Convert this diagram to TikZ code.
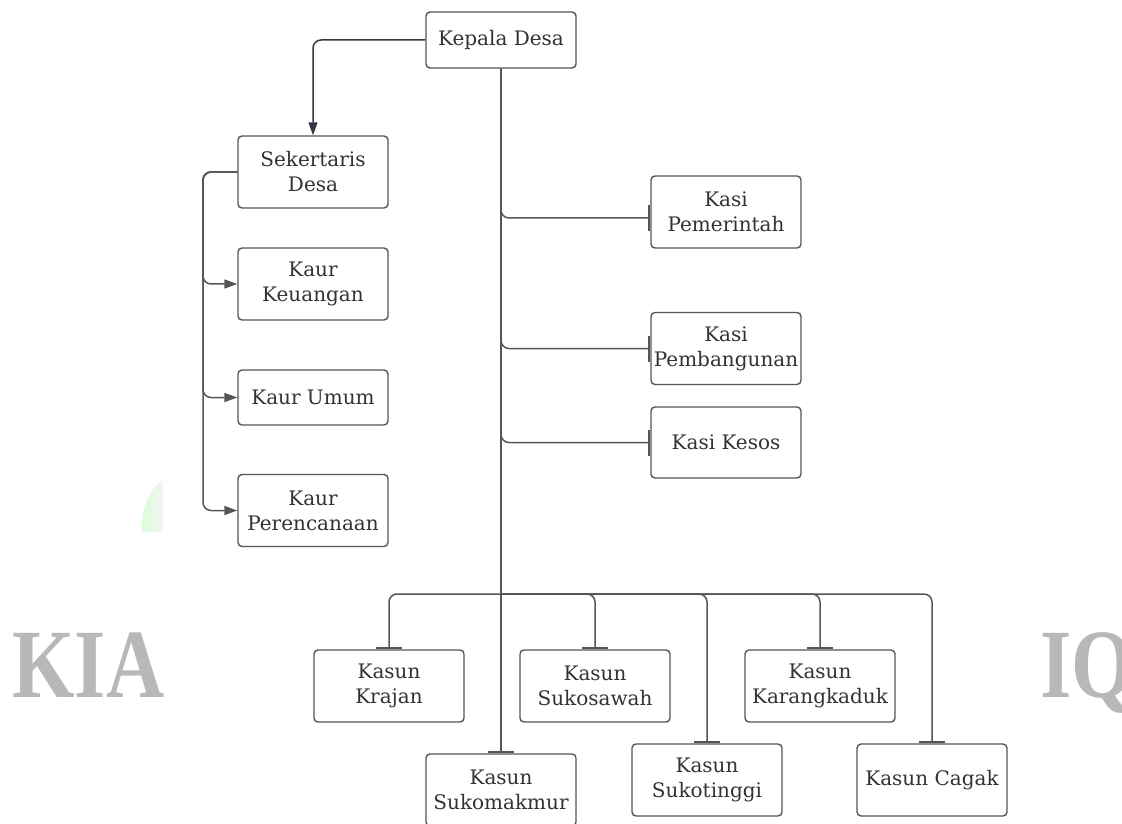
\documentclass[tikz,border=0pt]{standalone}
\usepackage{fontspec}
\setmainfont{DejaVu Serif}
\newfontfamily\wmfont{Liberation Serif}
\usepackage{tikz}
\usetikzlibrary{arrows.meta,positioning,calc}
\definecolor{garis}{HTML}{555555}
\definecolor{teks}{HTML}{333333}
\definecolor{panah}{HTML}{333844}
\definecolor{watermark}{HTML}{B8B8B8}
\tikzset{
	jabatan/.style={
		rectangle,
		rounded corners=2pt,
		draw=garis,
		line width=0.7pt,
		fill=white,
		text=teks,
		align=center,
		font=\fontsize{10}{12.5}\selectfont,
		minimum width=75pt,
		minimum height=36pt,
		inner sep=1pt,
	},
	tee/.style={
		-{Bar[width=13pt,line width=1.3pt]},
	},
	cabang/.style={
		draw=garis,
		line width=0.75pt,
		rounded corners=4pt,
	},
	wm/.style={
		text=watermark,
		inner sep=0pt,
		anchor=base west,
		font=\wmfont\bfseries\fontsize{49}{50}\selectfont,
		xscale=0.82,
	},
}

\begin{document}
\begin{tikzpicture}[x=0.5pt, y=-0.5pt, >={Triangle[length=6.5pt,width=4.5pt]}]
				\useasboundingbox (0,0) rectangle (1122,823);
				% watermark
				\shade[left color=green!25!white, right color=gray!15!white, opacity=0.6] (163,480) .. controls (148,490) and (141,510) .. (142,532) -- (163,532) -- cycle;
				\node [wm] (wm-kiri) at (12,697) {KIA};
				\node [wm] (wm-kanan) at (1040,697) {IQ};
				
				% nodes
				\node [jabatan, minimum height=28pt] (kades) at (501,40) {Kepala Desa};
				\node [jabatan] (sekdes) at (313,172) {Sekertaris\\Desa};
				\node [jabatan] (keu) at (313,284) {Kaur\\Keuangan};
				\node [jabatan, minimum height=27.5pt] (umum) at (313,397.5) {Kaur Umum};
				\node [jabatan] (renc) at (313,510.5) {Kaur\\Perencanaan};
				\node [jabatan] (pem) at (726,212) {Kasi\\Pemerintah};
				\node [jabatan] (bang) at (726,348.5) {Kasi\\Pembangunan};
				\node [jabatan, minimum height=35.5pt] (kesos) at (726,442.5) {Kasi Kesos};
				\node [jabatan] (krajan) at (389,686) {Kasun\\Krajan};
				\node [jabatan] (sukosawah) at (595,686) {Kasun\\Sukosawah};
				\node [jabatan] (karangkaduk) at (820,686) {Kasun\\Karangkaduk};
				\node [jabatan] (sukomakmur) at (501,790) {Kasun\\Sukomakmur};
				\node [jabatan] (sukotinggi) at (707,780) {Kasun\\Sukotinggi};
				\node [jabatan] (cagak) at (932,780) {Kasun Cagak};
				\coordinate (lbus) at (203,172);
				\coordinate (bus) at (501,594);
				
				%arcs
				\draw[cabang, ->, panah] (kades.west) -| (sekdes.north);
				\draw[cabang, ->] (sekdes.west) -- (lbus) |- (keu.west);
				\draw[cabang, ->] (sekdes.west) -- (lbus) |- (umum.west);
				\draw[cabang, ->] (sekdes.west) -- (lbus) |- (renc.west);
				\draw[cabang, tee] (kades.south) -- (sukomakmur.north);
				\draw[cabang, tee] (kades.south) |- ([yshift=-3pt]pem.west);
				\draw[cabang, tee] (kades.south) |- (bang.west);
				\draw[cabang, tee] (kades.south) |- (kesos.west);
				\draw[cabang, tee] (bus) -| (krajan.north);
				\draw[cabang, tee] (bus) -| (sukosawah.north);
				\draw[cabang, tee] (bus) -| (sukotinggi.north);
				\draw[cabang, tee] (bus) -| (karangkaduk.north);
				\draw[cabang, tee] (bus) -| (cagak.north);
			\end{tikzpicture}
\end{document}
